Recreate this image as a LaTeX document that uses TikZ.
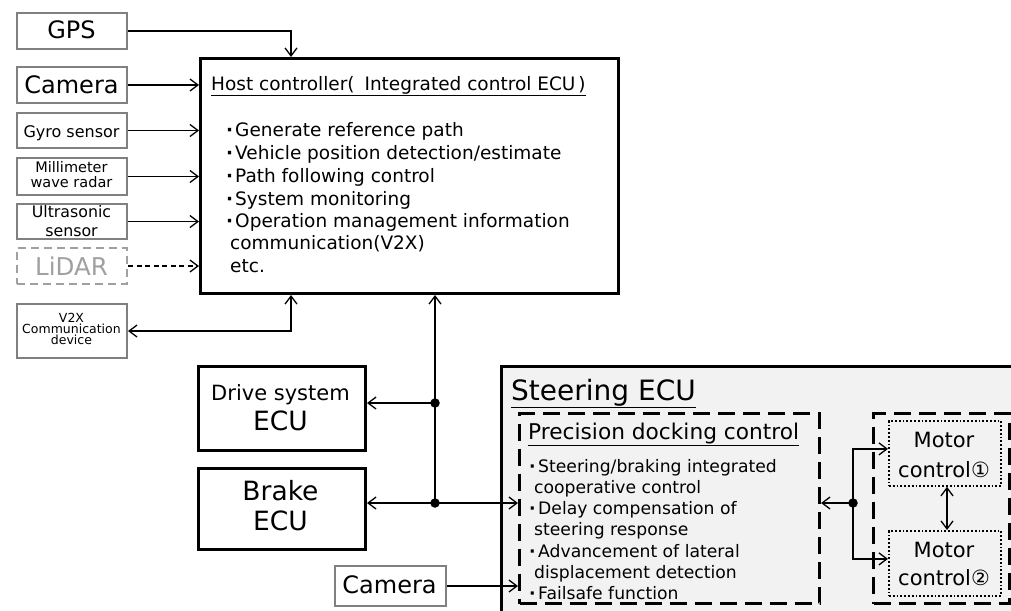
\documentclass[tikz,border=0pt]{standalone}
\usepackage{fontspec}
\setmainfont{DejaVu Sans}
\usetikzlibrary{arrows.meta,calc}
\definecolor{framegray}{RGB}{128,128,128}
\definecolor{lidargray}{RGB}{160,160,160}
\definecolor{ecufill}{RGB}{242,242,242}
\newcommand\fsz[1]{\fontsize{#1}{#1}\selectfont}
\newcommand\bulletmark{\makebox[9pt][l]{\textbf{·}}}
\begin{document}
\begin{tikzpicture}[x=1pt,y=-1pt,
  sensor/.style={draw=framegray, line width=2pt, inner sep=0pt, minimum width=110pt, anchor=north west},
  thickbox/.style={draw=black, line width=3pt, inner sep=0pt, anchor=north west},
  lbl/.style={inner sep=0pt, anchor=base},
  lblw/.style={inner sep=0pt, anchor=base west},
  conn/.style={line width=1.3pt, -{Straight Barb[length=8pt,width=12pt]}},
  conn2/.style={line width=1.3pt, {Straight Barb[length=8pt,width=12pt]}-{Straight Barb[length=8pt,width=12pt]}},
  junction/.style={circle, fill=black, inner sep=0pt, minimum size=9.5pt},
  dashbox/.style={draw=black, line width=3pt, dash pattern=on 17pt off 8pt, inner sep=0pt, anchor=north west},
  dotbox/.style={draw=black, line width=1.8pt, dash pattern=on 1.8pt off 2pt, inner sep=0pt, anchor=north west},
]
\useasboundingbox (0,0) rectangle (1011,610);
\clip (0,0) rectangle (1011,610);

% sensor boxes
\node[sensor, minimum height=36pt] (gps) at (16,12) {};
\node[sensor, minimum height=36pt] (cam) at (16,66) {};
\node[sensor, minimum height=35pt] (gyro) at (16,112) {};
\node[sensor, minimum height=37pt] (mmw) at (16,157) {};
\node[sensor, minimum height=35pt] (ultra) at (16,203) {};
\node[sensor, minimum height=36pt, draw=lidargray, dash pattern=on 8pt off 5pt] (lidar) at (16,247) {};
\node[sensor, minimum height=54pt] (v2x) at (16,303) {};

\node[lbl] (gpst) at (71.5,38.5) {\fsz{24}GPS};
\node[lbl] (camt) at (71.5,93) {\fsz{24}Camera};
\node[lbl] (gyrot) at (71.5,137) {\fsz{16}Gyro sensor};
\node[lbl] (mmwa) at (71.5,172) {\fsz{14.5}Millimeter};
\node[lbl] (mmwb) at (71.5,187) {\fsz{14.5}wave radar};
\node[lbl] (ultraa) at (71.5,217) {\fsz{15.8}Ultrasonic};
\node[lbl] (ultrab) at (71.5,236.5) {\fsz{15.8}sensor};
\node[lbl, text=lidargray] (lidart) at (71.5,275) {\fsz{24.5}LiDAR};
\node[lbl] (v2xa) at (71.5,322) {\fsz{12.5}V2X};
\node[lbl] (v2xb) at (71.5,333) {\fsz{12.5}Communication};
\node[lbl] (v2xc) at (71.5,344) {\fsz{12.5}device};

% host controller
\node[thickbox, minimum width=418pt, minimum height=235pt] (host) at (199,57) {};
\node[lblw] (htitle) at (211,90) {\fsz{18.5}\underline{Host controller(\hspace{4pt} Integrated control ECU\hspace{3pt})}};
\node[lblw] (hb1) at (226,136) {\fsz{18.5}\bulletmark Generate reference path};
\node[lblw] (hb2) at (226,159) {\fsz{18.5}\bulletmark Vehicle position detection/estimate};
\node[lblw] (hb3) at (226,182) {\fsz{18.5}\bulletmark Path following control};
\node[lblw] (hb4) at (226,205) {\fsz{18.5}\bulletmark System monitoring};
\node[lblw] (hb5) at (226,227) {\fsz{18.5}\bulletmark Operation management information};
\node[lblw] (hb6) at (230,249) {\fsz{18.5}communication(V2X)};
\node[lblw] (hb7) at (230,272) {\fsz{18.5}etc.};

% drive and brake ECUs
\node[thickbox, minimum width=167pt, minimum height=84pt] (drive) at (197,365) {};
\node[lbl] (drivea) at (280.5,400) {\fsz{21}Drive system};
\node[lbl] (driveb) at (280.5,430) {\fsz{26.5}ECU};
\node[thickbox, minimum width=167pt, minimum height=81pt] (brake) at (197,467) {};
\node[lbl] (brakea) at (280.5,500) {\fsz{26.5}Brake};
\node[lbl] (brakeb) at (280.5,530) {\fsz{26.5}ECU};

% steering ECU
\node[draw=black, line width=2.5pt, fill=ecufill, minimum width=540pt, minimum height=280pt, inner sep=0pt, anchor=north west] (steer) at (500,365) {};
\node[lblw] (steert) at (511,400) {\fsz{28}\underline{Steering ECU}};
\node[dashbox, minimum width=300pt, minimum height=190pt] (prec) at (518,412) {};
\node[lblw] (prect) at (528,439) {\fsz{21.7}\underline{Precision docking control}};
\node[lblw] (pb1) at (529,472) {\fsz{17.2}\bulletmark Steering/braking integrated};
\node[lblw] (pb2) at (534,493.3) {\fsz{17.2}cooperative control};
\node[lblw] (pb3) at (529,514.6) {\fsz{17.2}\bulletmark Delay compensation of};
\node[lblw] (pb4) at (534,535.9) {\fsz{17.2}steering response};
\node[lblw] (pb5) at (529,557.2) {\fsz{17.2}\bulletmark Advancement of lateral};
\node[lblw] (pb6) at (534,578.5) {\fsz{17.2}displacement detection};
\node[lblw] (pb7) at (529,599.8) {\fsz{17.2}\bulletmark Failsafe function};

\node[dashbox, minimum width=136pt, minimum height=190pt] (motors) at (872,412) {};
\node[dotbox, minimum width=112pt, minimum height=65pt] (m1) at (888,420) {};
\node[dotbox, minimum width=112pt, minimum height=65pt] (m2) at (888,530) {};
\node[lbl] (m1a) at (944,447) {\fsz{21}Motor};
\node[lbl] (m1b) at (944,477) {\fsz{21}control①};
\node[lbl] (m2a) at (944,557) {\fsz{21}Motor};
\node[lbl] (m2b) at (944,585) {\fsz{21}control②};

% lower camera
\node[sensor, minimum width=111pt, minimum height=40pt] (cam2) at (334,565) {};
\node[lbl] (cam2t) at (389.5,593) {\fsz{24}Camera};

% sensor connectors
\coordinate (gx) at (291,0);
\draw[conn] (gps.east) -| (gx |- host.north);
\draw[conn] (cam.east) -- (cam.east -| host.west);
\draw[conn] (gyro.east) -- (gyro.east -| host.west);
\draw[conn] (mmw.east) -- (mmw.east -| host.west);
\draw[conn] (ultra.east) -- (ultra.east -| host.west);
\draw[conn, dash pattern=on 5pt off 3.5pt] (lidar.east) -- (lidar.east -| host.west);
\draw[conn2] (v2x.east) -| (gx |- host.south);

% bus to the ECUs
\coordinate (bx) at (435,0);
\node[junction] (j1) at (435,403) {};
\node[junction] (j2) at (435,503) {};
\draw[conn] (j2.center) -- (bx |- host.south);
\draw[conn] (j1.center) -- (j1.center -| drive.east);
\draw[conn] (j2.center) -- (j2.center -| brake.east);
\draw[conn] (j2.center) -- (j2.center -| prec.west);
\draw[conn] (cam2.east) -- (cam2.east -| prec.west);

% motor control links
\node[junction] (j3) at (853,503) {};
\draw[conn] (j3.center) -- (j3.center -| prec.east);
\draw[conn] (j3.center) |- ($(m1.west)+(0,-4.5)$);
\draw[conn] (j3.center) |- ($(m2.west)+(0,-4.5)$);
\coordinate (mx) at (947,0);
\draw[conn2] (mx |- m1.south) -- (mx |- m2.north);
\end{tikzpicture}
\end{document}
